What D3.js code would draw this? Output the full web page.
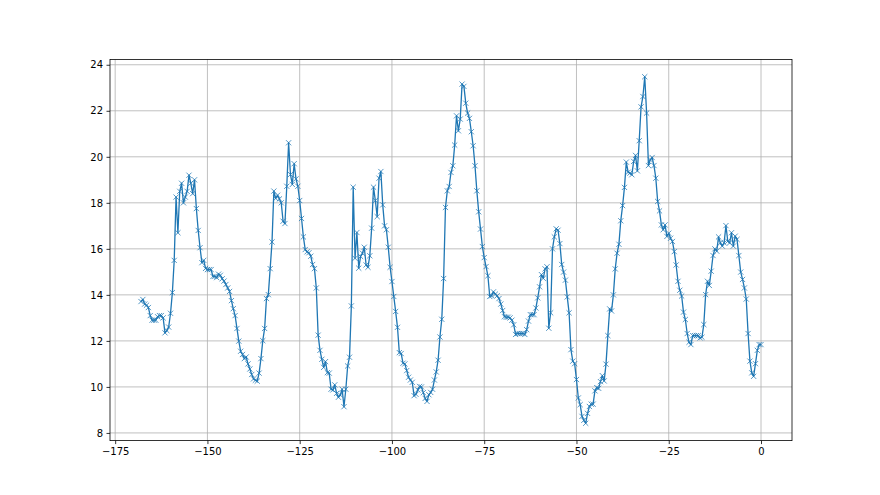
<!DOCTYPE html>
<html lang="en">

<head>
    <meta charset="UTF-8">
    <title>temperature line</title>
</head>
<style>
    * {
        margin: 0;
        padding: 0;
    }

    body {
        background-color: #fff;
        font-family: "DejaVu Sans";
    }

    .axis text {
        font-size: 10px;
        font-family: "DejaVu Sans";
        fill: #000;
    }

    .axis path,
    .axis line {
        stroke: #000;
        stroke-width: 0.8;
    }

    .grid line {
        stroke: #b0b0b0;
        stroke-width: 0.8;
    }
</style>
<script src="https://cdnjs.cloudflare.com/ajax/libs/d3/7.8.5/d3.min.js"></script>

<body>
    <div id="chart"></div>
</body>
<script>
    // half hourly readings, one array per day (oldest first)
    var day1 = [13.71, 13.8, 13.6, 13.55, 13.45, 13.1, 12.9, 12.9, 12.9, 13.05, 13.1, 13.1, 13.0, 12.35, 12.45, 12.6,
        13.2, 14.1, 15.5, 18.25, 16.7, 18.5, 18.85, 18.0, 18.25, 18.5, 19.2, 18.85, 18.4, 19.0, 17.75, 16.8,
        16.05, 15.4, 15.5, 15.15, 15.1, 15.1, 15.1, 14.8, 14.8, 14.75, 14.9, 14.85, 14.7, 14.6, 14.45, 14.3];
    var day2 = [14.15, 13.75, 13.4, 13.1, 12.54, 11.99, 11.55, 11.41, 11.23, 11.3, 11.0, 10.78, 10.54, 10.35, 10.29, 10.25,
        10.6, 11.23, 12.01, 12.54, 13.84, 14.01, 15.14, 16.3, 18.51, 18.19, 18.33, 18.17, 18.0, 17.2, 17.1, 18.72,
        20.61, 19.23, 18.8, 19.7, 19.04, 18.72, 18.1, 17.32, 16.52, 15.97, 15.87, 15.83, 15.68, 15.32, 15.14, 14.3];
    var day3 = [12.25, 11.59, 11.2, 10.85, 11.1, 10.62, 10.6, 9.9, 9.87, 10.09, 9.72, 9.55, 9.65, 9.9, 9.14, 9.9,
        10.91, 11.29, 13.52, 18.68, 15.59, 16.71, 15.16, 15.67, 15.81, 16.07, 15.3, 15.2, 15.7, 16.9, 18.68, 18.1,
        17.4, 19.07, 19.36, 17.91, 17.0, 16.83, 16.07, 15.2, 14.58, 13.93, 13.28, 12.59, 11.49, 11.45, 11.03, 11.0];
    var day4 = [10.71, 10.42, 10.3, 10.2, 9.62, 9.68, 9.87, 10.02, 10.0, 9.75, 9.5, 9.37, 9.66, 9.76, 9.9, 10.3,
        10.65, 11.16, 12.17, 12.94, 14.71, 17.8, 18.52, 18.71, 19.32, 19.61, 20.51, 21.78, 21.13, 21.64, 23.16, 23.06,
        22.33, 21.9, 21.67, 21.09, 20.48, 19.61, 18.52, 17.61, 16.86, 16.1, 15.62, 15.23, 14.83, 13.93, 13.96, 14.13];
    var day5 = [14.03, 13.96, 13.84, 13.6, 13.32, 13.05, 13.03, 13.03, 13.0, 12.9, 12.7, 12.28, 12.32, 12.32, 12.32, 12.32,
        12.28, 12.49, 12.86, 13.14, 13.14, 13.14, 13.43, 13.87, 14.35, 14.88, 14.72, 15.13, 15.22, 12.55, 13.22, 16.0,
        16.52, 16.87, 16.81, 16.23, 15.32, 14.99, 14.64, 13.91, 13.22, 11.62, 11.12, 11.01, 10.32, 9.52, 9.23, 8.72];
    var day6 = [8.55, 8.42, 8.85, 9.15, 9.25, 9.25, 9.83, 9.97, 9.94, 10.23, 10.49, 10.26, 10.99, 12.23, 13.39, 13.3,
        14.0, 15.13, 15.81, 16.2, 17.22, 17.88, 18.67, 19.77, 19.33, 19.29, 19.22, 19.8, 20.06, 19.39, 20.7, 22.17,
        22.62, 23.48, 21.9, 19.62, 19.87, 19.97, 19.62, 19.07, 18.06, 17.65, 17.04, 16.83, 17.04, 16.54, 16.68, 16.46];
    var day7 = [16.32, 15.88, 15.3, 14.59, 14.2, 13.95, 13.25, 12.93, 12.32, 11.94, 11.84, 12.23, 12.23, 12.23, 12.23, 12.13,
        12.16, 12.71, 14.01, 14.59, 14.41, 15.03, 15.71, 16.0, 15.9, 16.52, 16.26, 16.12, 16.26, 17.01, 16.33, 16.26,
        16.7, 16.12, 16.55, 16.41, 15.71, 14.99, 14.67, 14.3, 13.82, 12.32, 11.12, 10.61, 10.46, 11.01, 11.59, 11.84];
    var lastReading = [11.84];

    var xTicks = [-175, -150, -125, -100, -75, -50, -25, 0];
    var yTicks = [8, 10, 12, 14, 16, 18, 20, 22, 24];

    var temps = day1.concat(day2, day3, day4, day5, day6, day7, lastReading);
    // hours before now, one reading every half hour
    var hours = temps.map(function(d, i) {
        return -168 + i * 0.5;
    });
    var data = temps.map(function(t, i) {
        return [hours[i], t];
    });

    var width = 880,
        height = 495;
    var plotLeft = 110,
        plotRight = 792,
        plotTop = 59.4,
        plotBottom = 440.6;

    var svg = d3.select('#chart').append('svg')
        .attr('width', width)
        .attr('height', height);

    // matplotlib style 5% margins
    var xMin = d3.min(hours), xMax = d3.max(hours);
    var yMin = d3.min(temps), yMax = d3.max(temps);
    var xPad = (xMax - xMin) * 0.05,
        yPad = (yMax - yMin) * 0.05;

    var xScale = d3.scaleLinear()
        .domain([xMin - xPad, xMax + xPad])
        .range([plotLeft, plotRight]);
    var yScale = d3.scaleLinear()
        .domain([yMin - yPad, yMax + yPad])
        .range([plotBottom, plotTop]);

    // grid
    var grid = svg.append('g').attr('class', 'grid');
    grid.selectAll('.vline')
        .data(xTicks)
        .enter()
        .append('line')
        .attr('x1', function(d) { return xScale(d); })
        .attr('x2', function(d) { return xScale(d); })
        .attr('y1', plotTop)
        .attr('y2', plotBottom);
    grid.selectAll('.hline')
        .data(yTicks)
        .enter()
        .append('line')
        .attr('y1', function(d) { return yScale(d); })
        .attr('y2', function(d) { return yScale(d); })
        .attr('x1', plotLeft)
        .attr('x2', plotRight);

    var line = d3.line()
        .x(function(d) { return xScale(d[0]); })
        .y(function(d) { return yScale(d[1]); });

    svg.append('path')
        .datum(data)
        .attr('d', line)
        .attr('fill', 'none')
        .attr('stroke', '#1f77b4')
        .attr('stroke-width', 1.3)
        .attr('stroke-linejoin', 'round');

    // x markers
    var m = 2.6;
    svg.append('g').selectAll('path')
        .data(data)
        .enter()
        .append('path')
        .attr('d', function(d) {
            var x = xScale(d[0]), y = yScale(d[1]);
            return 'M' + (x - m) + ',' + (y - m) + 'L' + (x + m) + ',' + (y + m) +
                'M' + (x - m) + ',' + (y + m) + 'L' + (x + m) + ',' + (y - m);
        })
        .attr('stroke', '#1f77b4')
        .attr('stroke-width', 0.9)
        .attr('stroke-opacity', 0.85);

    // axes
    var xAxis = d3.axisBottom(xScale)
        .tickValues(xTicks)
        .tickSize(3.5)
        .tickPadding(3.5)
        .tickSizeOuter(0);
    var yAxis = d3.axisLeft(yScale)
        .tickValues(yTicks)
        .tickSize(3.5)
        .tickPadding(3.5)
        .tickSizeOuter(0);

    svg.append('g')
        .attr('class', 'axis')
        .attr('transform', 'translate(0,' + plotBottom + ')')
        .call(xAxis);
    svg.append('g')
        .attr('class', 'axis')
        .attr('transform', 'translate(' + plotLeft + ',0)')
        .call(yAxis);

    svg.selectAll('.axis .domain').remove();

    // frame
    svg.append('rect')
        .attr('x', plotLeft)
        .attr('y', plotTop)
        .attr('width', plotRight - plotLeft)
        .attr('height', plotBottom - plotTop)
        .attr('fill', 'none')
        .attr('stroke', '#000')
        .attr('stroke-width', 0.8);
</script>

</html>
